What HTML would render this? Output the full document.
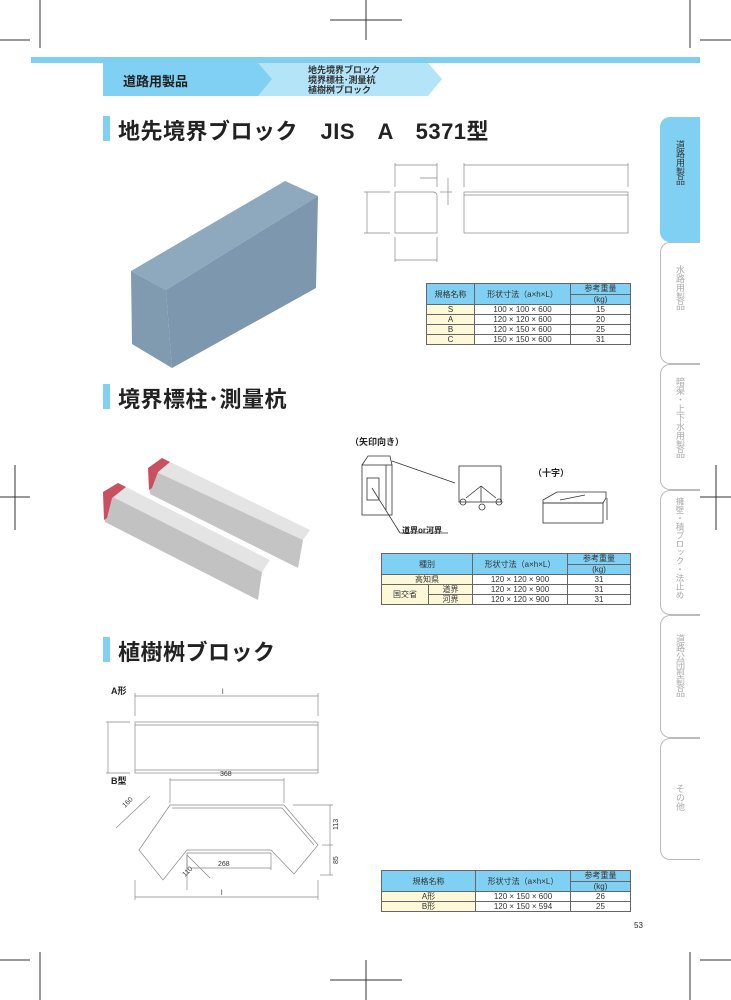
<!DOCTYPE html>
<html><head><meta charset="utf-8"><style>
body{margin:0;width:731px;height:1000px;background:#fff;position:relative;overflow:hidden;font-family:"Liberation Sans","Noto Sans CJK JP",sans-serif;color:#222}
.a{position:absolute}
table{border-collapse:collapse;position:absolute;font-size:8px;text-align:center;color:#333}
td{border:1px solid #666;padding:0;line-height:9px}
.h{background:#7fd0f2}
.y{background:#fdf8d8}
.tt{font-size:22px;font-weight:bold;letter-spacing:0.5px;color:#222}
.bar{position:absolute;width:7px;height:25px;background:#7fd0f2}
.tab{position:absolute;left:660px;width:40px;border:1px solid #bbb;border-right:none;border-radius:10px 0 0 10px;background:#fff;writing-mode:vertical-rl;font-size:9px;color:#aaa;text-align:left;padding-top:18px;box-sizing:border-box;line-height:40px;letter-spacing:0}
</style></head><body>
<svg class="a" style="left:0;top:0" width="731" height="1000">
<g stroke="#333" stroke-width="1" fill="none">
<line x1="40" y1="0" x2="40" y2="48"/><line x1="0" y1="40" x2="30" y2="40"/>
<line x1="366" y1="0" x2="366" y2="40"/><line x1="330" y1="20" x2="402" y2="20"/>
<line x1="690" y1="0" x2="690" y2="48"/><line x1="700" y1="40" x2="731" y2="40"/>
<line x1="40" y1="952" x2="40" y2="1000"/><line x1="0" y1="960" x2="30" y2="960"/>
<line x1="366" y1="960" x2="366" y2="1000"/><line x1="330" y1="980" x2="402" y2="980"/>
<line x1="690" y1="952" x2="690" y2="1000"/><line x1="700" y1="960" x2="731" y2="960"/>
<line x1="15" y1="465" x2="15" y2="530"/><line x1="0" y1="497" x2="30" y2="497"/>
<line x1="716" y1="465" x2="716" y2="530"/><line x1="700" y1="497" x2="731" y2="497"/>
</g>
<rect x="31" y="57" width="669" height="6" fill="#7fd0f0"/>
<polygon points="258,63 428,63 442,79 428,96 258,96 270,79" fill="#b3e4f8"/>
<polygon points="103,63 258,63 272,79 258,96 103,96" fill="#7fd0f2"/>
<polygon points="131,271 285,181 318,196 166,290" fill="#8ea9be"/>
<polygon points="131,271 166,290 172,368 132,344" fill="#809bb0"/>
<polygon points="166,290 318,196 316,288 172,368" fill="#7c97ae"/>
<g stroke="#888" stroke-width="0.7" fill="none">
<path d="M395,192 H433 Q437,192 437,196 V233 H395 Z"/>
<rect x="464" y="192" width="164" height="41"/><line x1="464" y1="195" x2="628" y2="195"/>
<line x1="395" y1="163" x2="395" y2="187"/><line x1="437" y1="163" x2="437" y2="187"/><line x1="395" y1="165" x2="437" y2="165"/>
<line x1="395" y1="260" x2="437" y2="260"/><line x1="395" y1="237" x2="395" y2="262"/><line x1="437" y1="237" x2="437" y2="262"/>
<line x1="364" y1="192" x2="390" y2="192"/><line x1="364" y1="233" x2="390" y2="233"/><line x1="367" y1="192" x2="367" y2="233"/>
<line x1="464" y1="163" x2="464" y2="187"/><line x1="628" y1="163" x2="628" y2="187"/><line x1="464" y1="165" x2="628" y2="165"/>
<line x1="420" y1="178" x2="437" y2="178"/><line x1="448" y1="178" x2="448" y2="205"/><line x1="440" y1="192" x2="452" y2="192"/>
</g>
<polygon points="148,468 162,458 310,530 303,540" fill="#e4e4e4"/>
<polygon points="148,468 303,540 298,568 150,494" fill="#c4c4c4"/>
<polygon points="148,468 162,458 170,462 158,472 152,488 149,490" fill="#c8505f"/>
<polygon points="103,492 118,483 270,560 262,572" fill="#e4e4e4"/>
<polygon points="103,492 262,572 258,600 105,522" fill="#c2c2c2"/>
<polygon points="103,492 118,483 126,487 112,498 107,518 104,520" fill="#c8505f"/>
<g stroke="#333" stroke-width="0.8" fill="none">
<rect x="362" y="465" width="30" height="50"/><path d="M362,465 L368,456 H390 L392,465"/>
<line x1="386" y1="465" x2="386" y2="510"/>
<rect x="367" y="478" width="12" height="22"/>
<line x1="392" y1="461" x2="455" y2="483"/>
<line x1="372" y1="488" x2="400" y2="533"/><line x1="400" y1="533" x2="448" y2="533"/>
<rect x="459" y="466" width="42" height="36"/>
<line x1="481" y1="486" x2="466" y2="498"/><line x1="481" y1="486" x2="481" y2="502"/><line x1="481" y1="486" x2="496" y2="498"/>
<circle cx="463" cy="502" r="3"/><circle cx="482" cy="507" r="3"/><circle cx="499" cy="502" r="3"/>
<path d="M543,500 L557,492 H606 V498 L603,503 H543 Z"/><rect x="543" y="503" width="60" height="20"/>
<line x1="607" y1="498" x2="607" y2="520"/>
<line x1="560" y1="500" x2="585" y2="495"/>
</g>
<g stroke="#888" stroke-width="0.7" fill="none">
<rect x="135" y="722" width="183" height="51"/><line x1="135" y1="725" x2="318" y2="725"/><line x1="135" y1="770" x2="318" y2="770"/>
<line x1="135" y1="693" x2="135" y2="716"/><line x1="318" y1="693" x2="318" y2="716"/><line x1="135" y1="696" x2="318" y2="696"/>
<line x1="106" y1="722" x2="130" y2="722"/><line x1="106" y1="773" x2="130" y2="773"/><line x1="108" y1="722" x2="108" y2="773"/>
<path d="M170,805 H284 L318,845 L294,874 L271,850 H187 L163,880 L139,850 Z"/>
<path d="M172,808 H282 L314,845 M187,853 H271"/>
<line x1="170" y1="778" x2="170" y2="803"/><line x1="284" y1="778" x2="284" y2="803"/><line x1="170" y1="780" x2="284" y2="780"/>
<line x1="116" y1="828" x2="150" y2="796"/><line x1="293" y1="805" x2="333" y2="805"/><line x1="322" y1="845" x2="333" y2="845"/><line x1="320" y1="875" x2="333" y2="875"/><line x1="330" y1="805" x2="330" y2="875"/>
<line x1="187" y1="853" x2="187" y2="870"/><line x1="271" y1="853" x2="271" y2="870"/><line x1="190" y1="868" x2="271" y2="868"/>
<line x1="187" y1="855" x2="210" y2="878"/><line x1="187" y1="855" x2="187" y2="890"/>
<line x1="135" y1="880" x2="135" y2="900"/><line x1="318" y1="880" x2="318" y2="900"/><line x1="135" y1="897" x2="318" y2="897"/>
</g>
<g font-size="7" fill="#333" font-family="Liberation Sans,sans-serif">
<text x="222" y="694">l</text><text x="221" y="895">l</text>
<text x="220" y="776">368</text><text x="218" y="866">268</text>
<text x="125" y="808" transform="rotate(-45 125 808)">160</text>
<text x="185" y="877" transform="rotate(-45 185 877)">110</text>
<text x="338" y="830" transform="rotate(-90 338 830)">113</text>
<text x="338" y="864" transform="rotate(-90 338 864)">85</text>
</g>
</svg>
<div class="a" style="left:123px;top:71px;font-size:13px;font-weight:bold">道路用製品</div>
<div class="a" style="left:308px;top:65px;font-size:9px;line-height:10px;font-weight:bold;color:#333">地先境界ブロック<br>境界標柱･測量杭<br>植樹桝ブロック</div>
<div class="bar" style="left:103px;top:116px"></div><div class="a tt" style="left:118px;top:114px">地先境界ブロック　JIS　A　5371型</div>
<div class="bar" style="left:103px;top:384px"></div><div class="a tt" style="left:118px;top:382px">境界標柱･測量杭</div>
<div class="bar" style="left:103px;top:637px"></div><div class="a tt" style="left:118px;top:635px">植樹桝ブロック</div>
<div class="a" style="left:350px;top:435px;font-size:9px;font-weight:bold">（矢印向き）</div>
<div class="a" style="left:533px;top:466px;font-size:9px;font-weight:bold">（十字）</div>
<div class="a" style="left:402px;top:525px;font-size:8px;font-weight:bold">道界or河界</div>
<div class="a" style="left:111px;top:684px;font-size:9px;font-weight:bold">A形</div>
<div class="a" style="left:111px;top:774px;font-size:9px;font-weight:bold">B型</div>
<div class="a" style="left:634px;top:921px;font-size:8px">53</div>
<div class="tab" style="top:117px;height:125px;background:#7fd0f2;color:#333;border-color:#7fd0f2;padding-top:22px">道路用製品</div>
<div class="tab" style="top:242px;height:122px;padding-top:22px">水路用製品</div>
<div class="tab" style="top:364px;height:126px;padding-top:12px">暗渠・上下水用製品</div>
<div class="tab" style="top:490px;height:125px;padding-top:6px;font-size:8.5px">擁壁・積ブロック・法止め</div>
<div class="tab" style="top:615px;height:123px;padding-top:18px">道路公団型製品</div>
<div class="tab" style="top:738px;height:122px;padding-top:45px">その他</div>
<table style="left:426px;top:283px;width:205px">
<tr><td class="h" rowspan="2" style="width:47px;height:20px">規格名称</td><td class="h" rowspan="2" style="width:95px">形状寸法（a×h×L）</td><td class="h">参考重量</td></tr>
<tr><td class="h">(kg)</td></tr>
<tr><td class="y">S</td><td>100 × 100 × 600</td><td>15</td></tr>
<tr><td class="y">A</td><td>120 × 120 × 600</td><td>20</td></tr>
<tr><td class="y">B</td><td>120 × 150 × 600</td><td>25</td></tr>
<tr><td class="y">C</td><td>150 × 150 × 600</td><td>31</td></tr>
</table>
<table style="left:381px;top:553px;width:250px">
<tr><td class="h" colspan="2" rowspan="2" style="height:20px">種別</td><td class="h" rowspan="2" style="width:94px">形状寸法（a×h×L）</td><td class="h" style="width:62px">参考重量</td></tr>
<tr><td class="h">(kg)</td></tr>
<tr><td class="y" colspan="2">高知県</td><td>120 × 120 × 900</td><td>31</td></tr>
<tr><td class="y" rowspan="2" style="width:46px">国交省</td><td class="y">道界</td><td>120 × 120 × 900</td><td>31</td></tr>
<tr><td class="y">河界</td><td>120 × 120 × 900</td><td>31</td></tr>
</table>
<table style="left:381px;top:870px;width:250px">
<tr><td class="h" rowspan="2" style="width:93px;height:20px">規格名称</td><td class="h" rowspan="2" style="width:94px">形状寸法（a×h×L）</td><td class="h">参考重量</td></tr>
<tr><td class="h">(kg)</td></tr>
<tr><td class="y">A形</td><td>120 × 150 × 600</td><td>26</td></tr>
<tr><td class="y">B形</td><td>120 × 150 × 594</td><td>25</td></tr>
</table>
</body></html>
